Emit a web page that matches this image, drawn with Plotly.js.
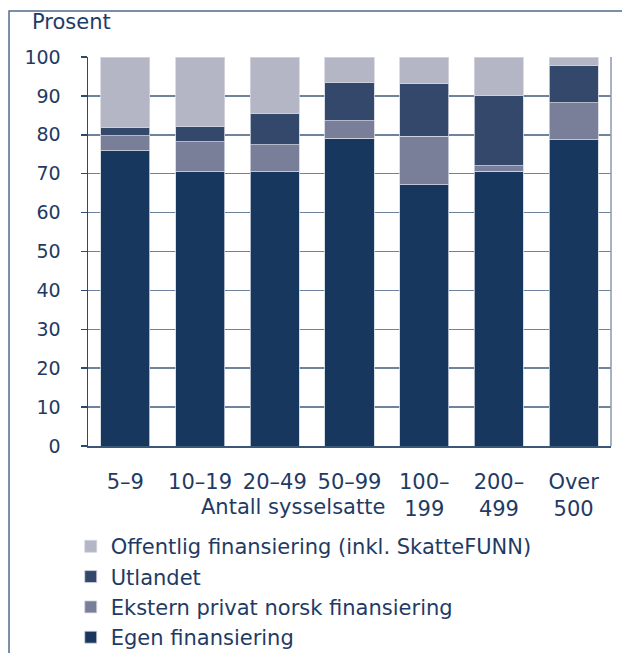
<!DOCTYPE html>
<html>
<head>
<meta charset="utf-8">
<script src="https://cdn.plot.ly/plotly-3.0.1.min.js"></script>
<style>
html,body{margin:0;padding:0;background:#fff;}
#chart{width:622px;height:653px;}
</style>
</head>
<body>
<div id="chart"></div>
<script>
const categories = ["5–9", "10–19", "20–49", "50–99", "100–<br>199", "200–<br>499", "Over<br>500"];
const egen = [75.9, 70.5, 70.5, 79.1, 67.1, 70.6, 78.7];
const ekstern = [3.8, 7.7, 7.0, 4.5, 12.5, 1.5, 9.5];
const utlandet = [2.1, 3.9, 8.1, 9.9, 13.7, 17.9, 9.5];
const offentlig = [18.2, 17.9, 14.4, 6.5, 6.7, 10.0, 2.3];
const yTicks = [0, 10, 20, 30, 40, 50, 60, 70, 80, 90, 100];

const textColor = "#1f3b64";
const fam = "DejaVu Sans, Verdana, sans-serif";
const font = {family: fam, size: 21, color: textColor};
const numFont = {family: fam, size: 19, color: textColor};
const edge = {color: "#d3d6e0", width: 0.8};

function tr(name, vals, color, grp, rank) {
  return {type: "bar", name: name, x: categories, y: vals, legendgroup: grp, legendrank: rank,
    marker: {color: color, line: edge}, hoverinfo: "skip"};
}
const data = [
  tr("Egen finansiering", egen, "#17375e", "a", 4),
  tr("Ekstern privat norsk finansiering", ekstern, "#7a7f99", "b", 3),
  tr("Utlandet", utlandet, "#33486b", "c", 2),
  tr("Offentlig finansiering (inkl. SkatteFUNN)", offentlig, "#b4b6c6", "d", 1)
];

const layout = {
  width: 622, height: 653,
  margin: {l: 88, r: 11, t: 57, b: 207, autoexpand: false},
  paper_bgcolor: "#fff", plot_bgcolor: "#fff",
  font: font,
  barmode: "stack",
  bargap: 0.344,
  showlegend: true,
  legend: {orientation: "v", traceorder: "grouped", tracegroupgap: 0,
    x: -0.033, xanchor: "left", y: -0.206, yanchor: "top",
    font: font, itemwidth: 30, bgcolor: "rgba(0,0,0,0)"},
  xaxis: {type: "category", range: [-0.5, 6.5], showgrid: false, ticks: "",
    showline: true, linecolor: "#3b5878", linewidth: 1.5,
    ticklabelstandoff: 16, tickfont: font, fixedrange: true},
  yaxis: {range: [0, 100], tickvals: yTicks, ticktext: yTicks.map(String),
    showgrid: true, gridcolor: "#6f839c", gridwidth: 1.5,
    ticks: "outside", ticklen: 6, tickcolor: "#2b4a6e", tickwidth: 1.5,
    showline: true, linecolor: "#2b4a6e", linewidth: 1.5,
    zeroline: false, ticklabelstandoff: 16, tickfont: numFont, fixedrange: true},
  annotations: [
    {xref: "paper", yref: "paper", x: -0.111, y: 1.090, xanchor: "left", yanchor: "middle",
     text: "Prosent", showarrow: false, font: font},
    {xref: "paper", yref: "paper", x: 0.392, y: -0.156, xanchor: "center", yanchor: "middle",
     text: "Antall sysselsatte", showarrow: false, font: font}
  ],
  shapes: [
    {type: "line", xref: "paper", yref: "paper", x0: 1, x1: 1, y0: 0, y1: 1,
     line: {color: "#8a9ab0", width: 1.5}},
    {type: "rect", xref: "paper", yref: "paper", x0: -0.151, x1: 1.3, y0: 1.118, y1: -0.7,
     line: {color: "#4f6a8a", width: 1.5}, fillcolor: "rgba(0,0,0,0)", layer: "below"}
  ]
};

Plotly.newPlot("chart", data, layout, {displayModeBar: false, staticPlot: true});
</script>
</body>
</html>
